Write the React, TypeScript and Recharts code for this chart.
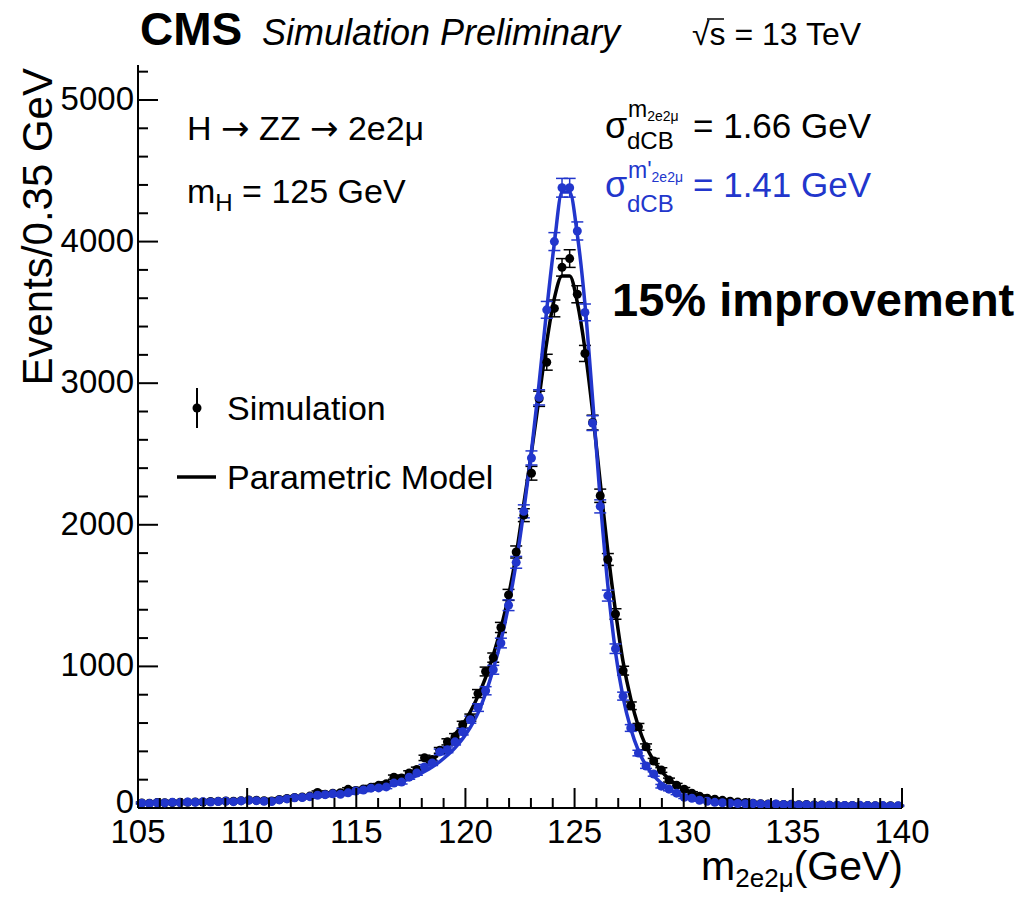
import React from 'react';
import {
  ComposedChart,
  Line,
  Scatter,
  ErrorBar,
  XAxis,
  YAxis,
} from 'recharts';

// binning: 100 bins of 0.35 GeV between 105 and 140
const binLow = 105;
const binWidth = 0.35;

const simBlack = [
  36, 34, 38, 37, 39, 40, 41, 43, 42, 46,
  47, 50, 48, 52, 57, 55, 52, 50, 60, 67,
  74, 78, 84, 110, 97, 104, 108, 132, 124, 134,
  147, 160, 172, 218, 212, 247, 272, 354, 342, 407,
  467, 503, 588, 638, 808, 964, 1062, 1275, 1505, 1808,
  2068, 2364, 2890, 3148, 3528, 3818, 3880, 3628, 3210, 2722,
  2205, 1755, 1370, 970, 722, 573, 432, 332, 268, 197,
  161, 133, 105, 83, 69, 62, 54, 48, 42, 39,
  33, 30, 28, 27, 25, 26, 23, 24, 22, 21,
  20, 18, 17, 18, 16, 17, 16, 15, 16, 15,
];

const simBlue = [
  34, 32, 37, 36, 40, 38, 42, 40, 45, 42,
  46, 48, 45, 50, 55, 52, 48, 46, 57, 64,
  72, 74, 80, 90, 94, 100, 97, 107, 120, 127,
  140, 142, 149, 176, 183, 218, 247, 290, 318, 396,
  411, 467, 539, 624, 709, 828, 976, 1165, 1432, 1735,
  2095, 2472, 2900, 3518, 4000, 4380, 4380, 4075, 3500, 2718,
  2130, 1500, 1125, 790, 565, 388, 297, 240, 154, 133,
  105, 76, 69, 55, 48, 40, 37, 34, 32, 30,
  31, 28, 26, 28, 24, 25, 22, 23, 20, 21,
  19, 20, 18, 17, 19, 17, 16, 17, 15, 16,
];

const modelBlack = [
  36, 37, 38, 39, 40, 41, 42, 43, 44, 46,
  47, 49, 51, 53, 55, 57, 59, 62, 65, 68,
  72, 76, 80, 85, 90, 96, 102, 110, 118, 130,
  142, 155, 170, 188, 210, 235, 265, 300, 340, 390,
  450, 520, 590, 680, 790, 920, 1080, 1270, 1500, 1790,
  2150, 2510, 2900, 3290, 3600, 3757, 3757, 3570, 3240, 2800,
  2300, 1810, 1390, 1030, 770, 575, 435, 335, 260, 205,
  165, 133, 108, 90, 76, 65, 56, 49, 44, 40,
  36, 33, 31, 29, 27, 25, 24, 23, 22, 21,
  20, 19, 19, 18, 18, 17, 17, 16, 16, 16,
];

const modelBlue = [
  34, 35, 36, 37, 38, 39, 40, 41, 42, 43,
  45, 46, 48, 50, 52, 54, 56, 58, 61, 64,
  67, 71, 75, 79, 84, 89, 95, 102, 110, 118,
  128, 139, 152, 167, 185, 206, 230, 258, 290, 328,
  372, 425, 490, 570, 670, 810, 980, 1180, 1430, 1730,
  2100, 2520, 3000, 3520, 3990, 4350, 4350, 4050, 3560, 2890,
  2180, 1570, 1100, 780, 560, 405, 300, 228, 175, 135,
  105, 82, 65, 53, 44, 38, 34, 31, 29, 27,
  26, 25, 24, 23, 22, 21, 21, 20, 20, 19,
  19, 18, 18, 18, 17, 17, 17, 16, 16, 16,
];

const xTicks = [
  105, 106, 107, 108, 109, 110, 111, 112, 113, 114, 115, 116, 117, 118, 119,
  120, 121, 122, 123, 124, 125, 126, 127, 128, 129, 130, 131, 132, 133, 134,
  135, 136, 137, 138, 139, 140,
];
const yTicks = [
  0, 200, 400, 600, 800, 1000, 1200, 1400, 1600, 1800, 2000, 2200, 2400, 2600,
  2800, 3000, 3200, 3400, 3600, 3800, 4000, 4200, 4400, 4600, 4800, 5000, 5200,
];

const BLUE = '#2236cc';
const FONT = '"Liberation Sans", Arial, Helvetica, sans-serif';
const ARROW_FONT = '"DejaVu Sans", sans-serif';

const centers = simBlack.map((_, i) => +(binLow + binWidth * (i + 0.5)).toFixed(3));

const lineData = centers.map((x, i) => ({
  x,
  modelBlack: modelBlack[i],
  modelBlue: modelBlue[i],
}));

const blackPoints = centers.map((x, i) => ({ x, y: simBlack[i], err: Math.sqrt(simBlack[i]) }));
const bluePoints = centers.map((x, i) => ({ x, y: simBlue[i], err: Math.sqrt(simBlue[i]) }));

const XTickBottom = (props: any) => {
  const { x, y, payload } = props;
  const major = payload.value % 5 === 0;
  return (
    <g>
      <line x1={x} x2={x} y1={y} y2={y - (major ? 20 : 10)} stroke="#000" strokeWidth={2} />
      {major && (
        <text x={x} y={y + 35} textAnchor="middle" fontSize={33} fontFamily={FONT} fill="#000">
          {payload.value}
        </text>
      )}
    </g>
  );
};

const XTickTop = (props: any) => {
  const { x, y, payload } = props;
  const major = payload.value % 5 === 0;
  return <line x1={x} x2={x} y1={y} y2={y + (major ? 20 : 10)} stroke="#000" strokeWidth={2} />;
};

const YTickLeft = (props: any) => {
  const { x, y, payload } = props;
  const major = payload.value % 1000 === 0;
  // the zero label sits a touch higher so it clears the x-axis "105"
  const dy = payload.value === 0 ? 5 : 10;
  return (
    <g>
      <line x1={x} x2={x + (major ? 20 : 10)} y1={y} y2={y} stroke="#000" strokeWidth={2} />
      {major && (
        <text x={x - 4} y={y + dy} textAnchor="end" fontSize={33} fontFamily={FONT} fill="#000">
          {payload.value}
        </text>
      )}
    </g>
  );
};

const YTickRight = (props: any) => {
  const { x, y, payload } = props;
  const major = payload.value % 1000 === 0;
  return <line x1={x} x2={x - (major ? 20 : 10)} y1={y} y2={y} stroke="#000" strokeWidth={2} />;
};

const dot = (color: string) => (props: any) => (
  <circle cx={props.cx} cy={props.cy} r={4.5} fill={color} />
);

export default function App() {
  return (
    <div style={{ position: 'absolute', left: 0, top: 0, width: 1026, height: 897, background: '#fff' }}>
      <ComposedChart
        width={1026}
        height={897}
        data={lineData}
        margin={{ top: 65, right: 124, left: 0, bottom: 0 }}
      >
        <XAxis
          dataKey="x"
          type="number"
          domain={[105, 140]}
          ticks={xTicks}
          interval={0}
          height={89}
          tickSize={0}
          tickMargin={0}
          tickLine={false}
          axisLine={{ stroke: '#000', strokeWidth: 2 }}
          tick={<XTickBottom />}
          allowDataOverflow
        />
        <XAxis
          xAxisId="top"
          orientation="top"
          dataKey="x"
          type="number"
          domain={[105, 140]}
          ticks={xTicks}
          interval={0}
          height={0}
          tickSize={0}
          tickMargin={0}
          tickLine={false}
          axisLine={{ stroke: '#000', strokeWidth: 2 }}
          tick={<XTickTop />}
          allowDataOverflow
        />
        <YAxis
          type="number"
          domain={[0, 5247]}
          ticks={yTicks}
          interval={0}
          width={138}
          tickSize={0}
          tickMargin={0}
          tickLine={false}
          axisLine={{ stroke: '#000', strokeWidth: 2 }}
          tick={<YTickLeft />}
          allowDataOverflow
        />
        <YAxis
          yAxisId="right"
          orientation="right"
          type="number"
          domain={[0, 5247]}
          ticks={yTicks}
          interval={0}
          width={0}
          tickSize={0}
          tickMargin={0}
          tickLine={false}
          axisLine={{ stroke: '#000', strokeWidth: 2 }}
          tick={<YTickRight />}
          allowDataOverflow
        />
        <Line
          type="monotone"
          dataKey="modelBlack"
          stroke="#000"
          strokeWidth={3.5}
          dot={false}
          isAnimationActive={false}
        />
        <Scatter data={blackPoints} dataKey="y" shape={dot('#000')} isAnimationActive={false}>
          <ErrorBar dataKey="err" direction="y" width={6} stroke="#000" strokeWidth={1.5} />
        </Scatter>
        <Line
          type="monotone"
          dataKey="modelBlue"
          stroke={BLUE}
          strokeWidth={3.5}
          dot={false}
          isAnimationActive={false}
        />
        <Scatter data={bluePoints} dataKey="y" shape={dot(BLUE)} isAnimationActive={false}>
          <ErrorBar dataKey="err" direction="y" width={6} stroke={BLUE} strokeWidth={1.5} />
        </Scatter>
      </ComposedChart>

      <svg
        width={1026}
        height={897}
        style={{ position: 'absolute', left: 0, top: 0, pointerEvents: 'none' }}
        fontFamily={FONT}
      >
        {/* header */}
        <text x={140} y={45} fontSize={46} fontWeight="bold">CMS</text>
        <text x={262} y={45} fontSize={36} fontStyle="italic">Simulation Preliminary</text>
        <text x={692} y={45} fontSize={32}>√s = 13 TeV</text>
        <line x1={707} x2={724} y1={19} y2={19} stroke="#000" strokeWidth={1.5} />

        {/* axis titles */}
        <text transform="translate(52,68) rotate(-90)" textAnchor="end" fontSize={42}>
          Events/0.35 GeV
        </text>
        <text x={903} y={880} textAnchor="end" fontSize={41}>
          m<tspan fontSize={26} dy={7}>2e2μ</tspan>
          <tspan fontSize={41} dy={-7}>(GeV)</tspan>
        </text>

        {/* process labels */}
        <text x={187} y={140} fontSize={34}>
          H <tspan fontFamily={ARROW_FONT}>→</tspan> ZZ <tspan fontFamily={ARROW_FONT}>→</tspan> 2e2μ
        </text>
        <text x={187} y={203} fontSize={34}>
          m<tspan fontSize={24} dy={8}>H</tspan>
          <tspan dy={-8}> = 125 GeV</tspan>
        </text>

        {/* resolutions */}
        <text x={605} y={138} fontSize={36}>σ</text>
        <text x={628} y={117} fontSize={23}>
          m<tspan fontSize={14} dy={4}>2e2μ</tspan>
        </text>
        <text x={627} y={149} fontSize={24}>dCB</text>
        <text x={693} y={138} fontSize={35}>= 1.66 GeV</text>

        <g fill={BLUE}>
          <text x={605} y={197} fontSize={36}>σ</text>
          <text x={628} y={178} fontSize={23}>
            m'<tspan fontSize={14} dy={4}>2e2μ</tspan>
          </text>
          <text x={627} y={212} fontSize={24}>dCB</text>
          <text x={693} y={197} fontSize={35}>= 1.41 GeV</text>
        </g>

        <text x={612} y={316} fontSize={47} fontWeight="bold">15% improvement</text>

        {/* legend */}
        <line x1={197} x2={197} y1={388} y2={428} stroke="#000" strokeWidth={2} />
        <circle cx={197} cy={408} r={4.5} fill="#000" />
        <text x={227} y={420} fontSize={34}>Simulation</text>
        <line x1={177} x2={216} y1={477} y2={477} stroke="#000" strokeWidth={3.5} />
        <text x={227} y={489} fontSize={34}>Parametric Model</text>
      </svg>
    </div>
  );
}
